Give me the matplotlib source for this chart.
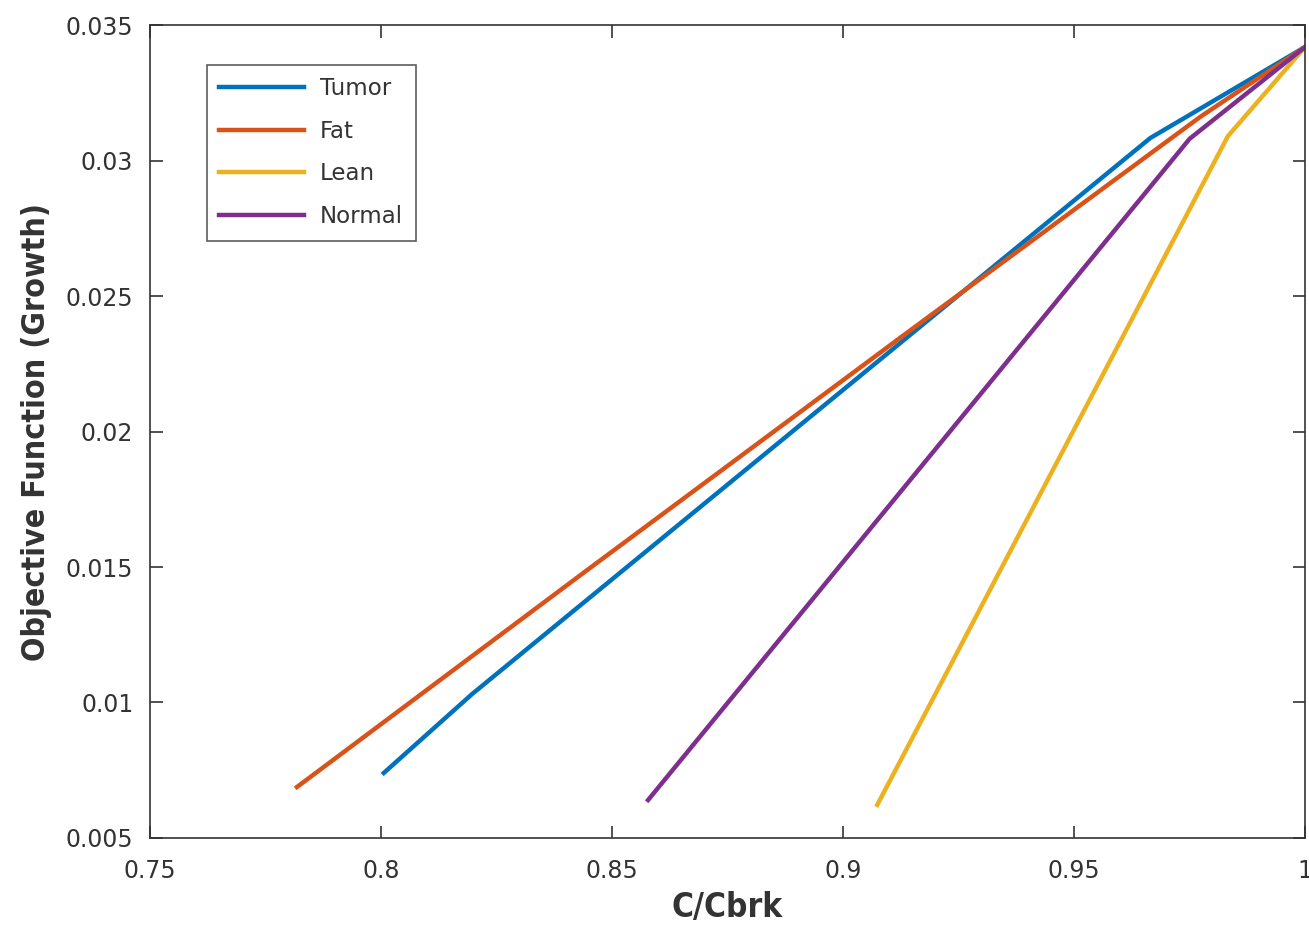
import matplotlib.pyplot as plt

# C/Cbrk vs objective function for each tissue type
tumor_x = [0.8006, 0.8197, 0.9665, 1.000]
tumor_y = [0.0074, 0.01031, 0.03083, 0.03419]

fat_x = [0.7818, 0.8452, 0.9123, 0.9773, 1.000]
fat_y = [0.00688, 0.01496, 0.02345, 0.03161, 0.03419]

lean_x = [0.9074, 0.9833, 1.000]
lean_y = [0.00622, 0.0309, 0.03419]

normal_x = [0.8578, 0.975, 1.000]
normal_y = [0.0064, 0.0308, 0.03419]

xticks = [0.75, 0.8, 0.85, 0.9, 0.95, 1.0]
xtick_labels = ["0.75", "0.8", "0.85", "0.9", "0.95", "1"]
yticks = [0.005, 0.01, 0.015, 0.02, 0.025, 0.03, 0.035]
ytick_labels = ["0.005", "0.01", "0.015", "0.02", "0.025", "0.03", "0.035"]

plt.rcParams['font.family'] = ['DejaVu Sans']

fig = plt.figure(figsize=(13.09, 9.34), dpi=100)
ax = fig.add_axes([0.1146, 0.1028, 0.8824, 0.8704])

lw = 3.2
ax.plot(tumor_x, tumor_y, color="#0072BD", lw=lw, label="Tumor")
ax.plot(fat_x, fat_y, color="#D95319", lw=lw, label="Fat")
ax.plot(lean_x, lean_y, color="#EDB120", lw=lw, label="Lean")
ax.plot(normal_x, normal_y, color="#7E2F8E", lw=lw, label="Normal")

ax.set_xlim(0.75, 1.0)
ax.set_ylim(0.005, 0.035)
ax.set_xticks(xticks)
ax.set_xticklabels(xtick_labels)
ax.set_yticks(yticks)
ax.set_yticklabels(ytick_labels)
ax.tick_params(direction="in", length=9, width=1.2, top=True, right=True,
               labelsize=17, labelcolor="#333333", color="#333333")
ax.tick_params(axis="x", pad=15)
ax.tick_params(axis="y", pad=12)
for s in ax.spines.values():
    s.set_color("#333333")
    s.set_linewidth(1.2)

ax.set_xlabel("C/Cbrk", fontsize=24, fontweight="bold", color="#333333",
              fontstretch="condensed", labelpad=6)
ax.set_ylabel("Objective Function (Growth)", fontsize=23, fontweight="bold",
              color="#333333", fontstretch="condensed", labelpad=10)

leg = ax.legend(loc="upper left", bbox_to_anchor=(0.049, 0.951), fontsize=16.5,
                fancybox=False, edgecolor="#333333", handlelength=3.7,
                borderpad=0.55, labelspacing=0.85, handletextpad=0.7,
                borderaxespad=0)
leg.get_frame().set_linewidth(1.2)
for t in leg.get_texts():
    t.set_color("#333333")

fig.savefig("out.png", dpi=100)
